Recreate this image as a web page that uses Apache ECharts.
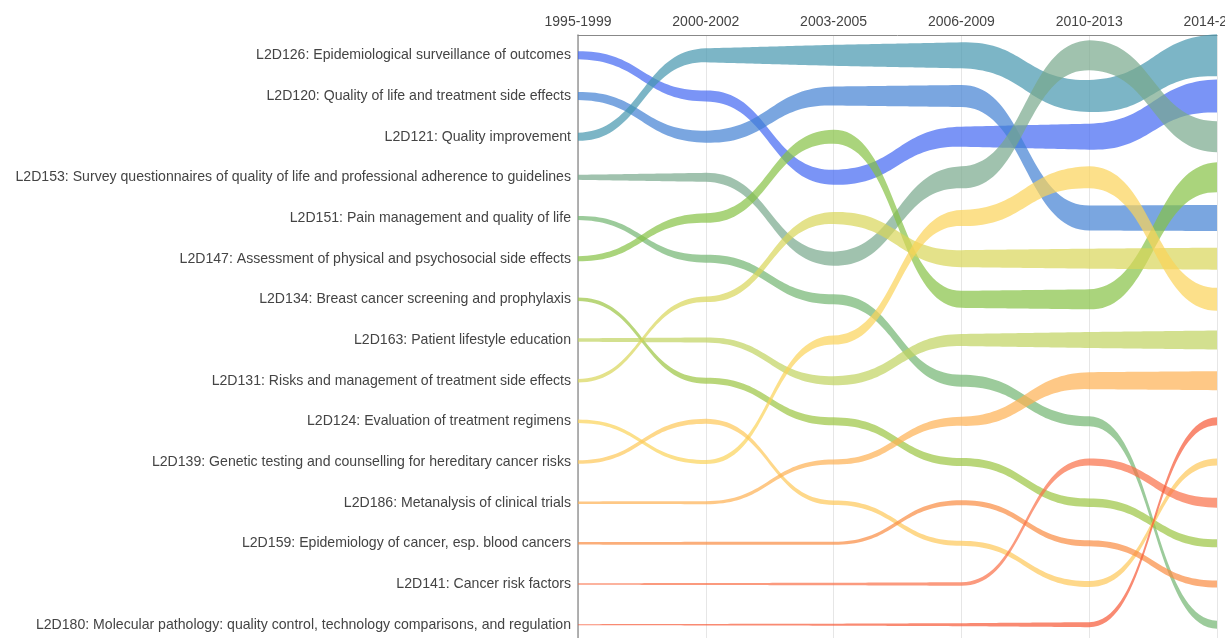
<!DOCTYPE html>
<html style="height: 100%">
<head>
    <meta charset="utf-8">
    <script src="https://cdn.jsdelivr.net/npm/echarts@6/dist/echarts.min.js"></script>
</head>
<body style="height: 100%; margin: 0; background: #fff;">
<div id="container" style="width: 1225px; height: 638px;"></div>
<script type="text/javascript">
    // periods (x axis)
    var periods = ['1995-1999', '2000-2002', '2003-2005', '2006-2009', '2010-2013', '2014-2017'];

    // topics, in their 1995-1999 order (y axis labels)
    var topics = [
        'L2D126: Epidemiological surveillance of outcomes',
        'L2D120: Quality of life and treatment side effects',
        'L2D121: Quality improvement',
        'L2D153: Survey questionnaires of quality of life and professional adherence to guidelines',
        'L2D151: Pain management and quality of life',
        'L2D147: Assessment of physical and psychosocial side effects',
        'L2D134: Breast cancer screening and prophylaxis',
        'L2D163: Patient lifestyle education',
        'L2D131: Risks and management of treatment side effects',
        'L2D124: Evaluation of treatment regimens',
        'L2D139: Genetic testing and counselling for hereditary cancer risks',
        'L2D186: Metanalysis of clinical trials',
        'L2D159: Epidemiology of cancer, esp. blood cancers',
        'L2D141: Cancer risk factors',
        'L2D180: Molecular pathology: quality control, technology comparisons, and regulation'
    ];

    // rank of each topic in each period
    var ranks = [
        [1, 2, 4, 3, 3, 2],
        [2, 3, 2, 2, 5, 5],
        [3, 1, 1, 1, 2, 1],
        [4, 4, 6, 4, 1, 3],
        [5, 6, 7, 9, 10, 15],
        [6, 5, 3, 7, 7, 4],
        [7, 9, 10, 11, 12, 13],
        [8, 8, 9, 8, 8, 8],
        [9, 7, 5, 6, 6, 6],
        [10, 11, 8, 5, 4, 7],
        [11, 10, 12, 13, 14, 11],
        [12, 12, 11, 10, 9, 9],
        [13, 13, 13, 12, 13, 14],
        [14, 14, 14, 14, 11, 12],
        [15, 15, 15, 15, 15, 10]
    ];

    // band weight of each topic in each period
    var weights = [
        [8, 11, 15, 20, 26, 33],
        [8, 12, 19, 22, 25, 26],
        [8, 14, 21, 26, 32, 42],
        [5, 9, 14, 22, 30, 31],
        [4, 8, 10, 12, 10, 8],
        [5, 9.5, 14, 17, 20, 30],
        [3.5, 6, 8, 8, 8.5, 8],
        [3.5, 5, 9, 12, 16, 19],
        [3.5, 5.5, 12, 17, 20, 22],
        [3.5, 4, 9, 16, 22, 23],
        [3.5, 5, 4.5, 5, 6, 7],
        [2.5, 3, 5, 9, 17, 19],
        [2.5, 3, 3, 5, 6, 7],
        [1.5, 2, 2.5, 3.5, 7, 10],
        [1, 1.5, 2, 3, 5, 8]
    ];

    var colors = ['#4166f2', '#4180d3', '#4495ae', '#77a88b', '#72b570', '#86c244', '#9bc441', '#c0d35f',
                  '#d8d658', '#fbd358', '#fdc858', '#feb052', '#f98b41', '#f96f47', '#f65836'];

    var dom = document.getElementById('container');
    var myChart = echarts.init(dom);

    // one band per topic: bump curves between periods, width varies linearly
    function renderBand(params, api) {
        var k = api.value(2);
        var r = ranks[k], w = weights[k];
        var pts = r.map(function (rank, j) { return api.coord([j, rank - 1]); });
        var top = [], bottom = [];
        var N = 40;
        for (var j = 0; j < pts.length - 1; j++) {
            var x0 = pts[j][0], y0 = pts[j][1], x1 = pts[j + 1][0], y1 = pts[j + 1][1];
            for (var s = (j === 0 ? 0 : 1); s <= N; s++) {
                var t = s / N;
                var u = 1.5 * t - 1.5 * t * t + t * t * t;
                var x = x0 + (x1 - x0) * u;
                var yc = y0 + (y1 - y0) * (3 * t * t - 2 * t * t * t);
                var ww = w[j] + (w[j + 1] - w[j]) * u;
                top.push([x, yc - ww / 2]);
                bottom.push([x, yc + ww / 2]);
            }
        }
        return {
            type: 'polygon',
            shape: { points: top.concat(bottom.reverse()) },
            style: { fill: colors[k], opacity: 0.7 }
        };
    }

    var option = {
        animation: false,
        textStyle: { fontFamily: 'Liberation Sans, Arial, sans-serif' },
        grid: { left: 578, right: 8, top: 35, height: 610, containLabel: false, outerBoundsMode: 'none' },
        xAxis: {
            type: 'category',
            position: 'top',
            boundaryGap: false,
            data: periods,
            axisLine: { lineStyle: { color: '#888', width: 1 } },
            axisTick: { inside: true, length: 5, lineStyle: { color: '#555' } },
            axisLabel: { fontSize: 14, color: '#444', margin: 6 },
            splitLine: { show: true, lineStyle: { color: '#e6e6e6' } }
        },
        yAxis: {
            type: 'category',
            inverse: true,
            data: topics,
            axisLine: { lineStyle: { color: '#999', width: 1.5 } },
            axisTick: { alignWithLabel: true, length: 5, lineStyle: { color: '#555' } },
            axisLabel: { fontSize: 14.1, color: '#444', margin: 7 },
            splitLine: { show: false }
        },
        series: [{
            type: 'custom',
            renderItem: renderBand,
            encode: { x: 0, y: 1 },
            data: topics.map(function (t, k) { return [0, 0, k]; })
        }]
    };
    myChart.setOption(option);
</script>
</body>
</html>
